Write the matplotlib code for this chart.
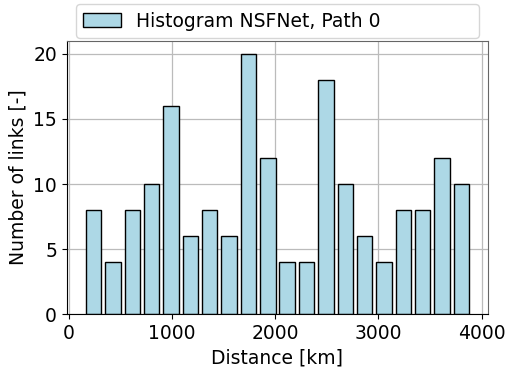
import numpy as np
import matplotlib
matplotlib.use("Agg")
import matplotlib.pyplot as plt

## histogram counts, 20 equal bins
counts = [8, 4, 8, 10, 16, 6, 8, 6, 20, 12, 4, 4, 18, 10, 6, 4, 8, 8, 12, 10]
dist_min = 143.0
dist_max = 3899.0
label = "Histogram NSFNet, Path 0"

edges = np.linspace(dist_min, dist_max, len(counts) + 1)
centers = (edges[:-1] + edges[1:]) / 2

fig = plt.figure(figsize=(5.05, 3.68), dpi=100)
ax = fig.add_axes([0.132, 0.146, 0.835, 0.743])
ax.hist(centers, bins=edges, weights=counts, rwidth=0.8, color='lightblue',
        edgecolor='black', linewidth=1.0, label=label)
ax.grid(True, color='#bbbbbb', linewidth=0.9)
ax.set_axisbelow(True)
for s in ['top', 'right']:
    ax.spines[s].set_color('#666666')
ax.set_xlabel('Distance [km]', fontsize=13.5)
ax.set_ylabel('Number of links [-]', fontsize=13.5)
ax.tick_params(labelsize=13.5)
ax.legend(loc='lower left', bbox_to_anchor=(0.022, 1.01, 0.955, 0.1), mode='expand',
          fontsize=13.5, borderaxespad=0)
fig.savefig('out.png', dpi=100)
